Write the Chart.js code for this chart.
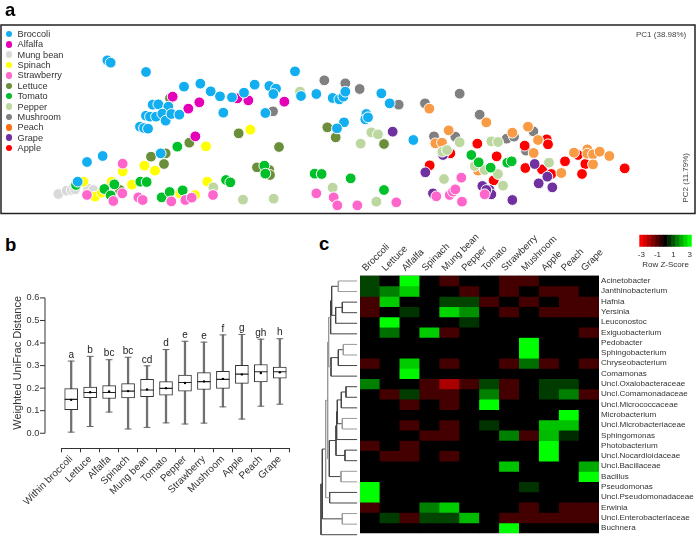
<!DOCTYPE html>
<html lang="en">
<head>
  <meta charset="UTF-8">
  <title>Microbiota of fresh produce</title>
  <script src="https://cdn.jsdelivr.net/npm/chart.js"></script>
  <style>
    body { margin: 0; background: #fff; font-family: "Liberation Sans", Arial, sans-serif; color: #333; overflow: hidden; }
    canvas { position: absolute; }
    #pcoaChart { left: 0; top: 0; }
    #boxChart { left: 0; top: 270px; }
    #dendroChart { left: 315px; top: 270px; }
    #heatChart { left: 350px; top: 225px; }
    #keyChart { left: 630px; top: 230px; }
    .panel { position: absolute; font-size: 18.5px; font-weight: bold; line-height: 20px; color: #000; }
    .vert { position: absolute; writing-mode: vertical-rl; transform: rotate(180deg); white-space: nowrap; }
    #pc1 { position: absolute; left: 636px; top: 30px; font-size: 8px; line-height: 10px; color: #444; }
    #pc2 { left: 681px; top: 153px; font-size: 8px; line-height: 10px; color: #444; }
    #yTitle { left: 11px; top: 296px; font-size: 11px; line-height: 12px; }
    .leg { position: absolute; left: 17.5px; font-size: 9.2px; line-height: 10px; white-space: nowrap; }
    .leg i { position: absolute; left: -11.7px; top: 1.7px; width: 6.5px; height: 6.5px; border-radius: 50%; }
  </style>
</head>
<body>
  <canvas id="pcoaChart" width="696" height="216"></canvas>
  <canvas id="boxChart" width="310" height="270"></canvas>
  <canvas id="heatChart" width="346" height="315"></canvas>
  <canvas id="dendroChart" width="43" height="270"></canvas>
  <canvas id="keyChart" width="66" height="40"></canvas>

  <div class="panel" style="left:5px;top:0">a</div>
  <div class="panel" style="left:5px;top:235px">b</div>
  <div class="panel" style="left:319px;top:233.7px">c</div>
  <div id="pc1">PC1 (38.98%)</div>
  <div id="pc2" class="vert">PC2 (11.79%)</div>
  <div id="yTitle" class="vert">Weighted UniFrac Distance</div>
  <div id="legend"></div>

  <script>
    // panel a: PC1, PC2 scores x1000
    const broccoli = [[-722,179],[-712,172],[-606,144],[-492,100],[-443,109],[-412,86],[-384,71],[-348,68],[-312,82],[-280,106],[-236,102],[-216,94],[-224,78],[-159,146],[-141,72],[-95,78],[-46,66],[-26,62],[-14,70],[-8,85],[-374,22],[-248,21],[-586,46],[-569,47],[-539,40],[-606,13],[-594,10],[-576,10],[-557,19],[-547,-2],[-530,18],[-506,16],[-624,-20],[-612,-24],[-600,-26],[-12,-7],[-33,-25],[-562,-100],[-736,-108],[-783,-126],[-811,-185],[100,80],[125,50],[55,18],[52,2],[60,8],[196,-60]];
    const alfalfa = [[-526,70],[-446,53],[-479,34],[-332,65],[-299,59],[-191,55],[-458,-49]];
    const mungBean = [[-869,-222],[-844,-212],[-829,-210],[-819,-208],[-781,-205],[-764,-210]];
    const spinach = [[-293,-29],[-426,-79],[-611,-137],[-579,-152],[-676,-154],[-648,-194],[-422,-185],[-759,-230],[-794,-185],[-709,-185],[-504,-220],[-459,-225],[-739,-218]];
    const strawberry = [[-676,-131],[-783,-225],[-677,-220],[-704,-243],[-629,-232],[-616,-240],[-530,-244],[-488,-240],[-469,-233],[-405,-225],[-95,-220],[-43,-232],[-32,-256],[28,-256],[145,-247],[342,-245],[340,-173],[265,-229],[305,-225],[315,-215],[322,-208],[410,-223]];
    const lettuce = [[-534,65],[-328,-40],[-476,-68],[-591,-110],[-547,-100],[-552,-132],[-207,-81],[-273,-142],[-236,-150],[-234,-165],[-62,-22],[-37,-52],[-684,-210],[108,-72]];
    const tomato = [[-512,-80],[-251,-137],[-248,-161],[-100,-161],[-79,-162],[-366,-180],[-353,-187],[-623,-185],[-604,-186],[-701,-193],[-731,-207],[-712,-226],[-559,-232],[-535,-216],[-496,-211],[-816,-195],[8,-175],[108,-210],[370,-105],[392,-127],[428,-143],[478,-128],[491,-124]];
    const pepper = [[-144,85],[-404,-202],[-315,-239],[-223,-236],[-46,-203],[70,-37],[90,-43],[38,-71],[335,-67],[283,-95],[297,-90],[430,-64],[450,-66],[380,-138],[410,-150],[450,-162],[465,-197],[288,-177],[603,-128],[85,-245]];
    const mushroom = [[-71,119],[-225,26],[-8,110],[35,93],[152,46],[231,50],[335,79],[395,16],[258,-49],[322,-50],[476,-56],[498,-50],[556,-34],[530,-80],[534,-92]];
    const peach = [[244,34],[415,-7],[302,-31],[262,-70],[282,-68],[493,-38],[540,-20],[570,-60],[557,-99],[640,-159],[678,-98],[718,-88],[718,-101],[735,-103],[755,-95],[784,-108],[735,-133],[390,-152]];
    const grape = [[134,-35],[232,-157],[285,-105],[560,-132],[598,-170],[572,-190],[613,-202],[403,-198],[425,-210],[430,-223],[493,-240],[255,-220],[415,-210]];
    const apple = [[388,-71],[596,-58],[600,-73],[446,-109],[307,-100],[245,-136],[530,-77],[532,-144],[582,-148],[610,-162],[651,-124],[690,-105],[712,-132],[702,-162],[830,-145],[437,-181]];

    const legendNames = ['Broccoli', 'Alfalfa', 'Mung bean', 'Spinach', 'Strawberry', 'Lettuce', 'Tomato', 'Pepper', 'Mushroom', 'Peach', 'Grape', 'Apple'];
    const legendColors = ['#12aeef', '#e500b8', '#d9d9d9', '#ffff00', '#ff66cc', '#6b8e3a', '#00bb2d', '#bcd8a0', '#808080', '#f96f10', '#7030a0', '#ff0000'];
    // first one ends up on top
    const pcoaSeries = [
      ['Broccoli', broccoli, '#12aeef'], ['Alfalfa', alfalfa, '#e500b8'], ['Strawberry', strawberry, '#ff66cc'],
      ['Tomato', tomato, '#00c02a'], ['Pepper', pepper, '#bcd8a0'], ['Peach', peach, '#f99a45'],
      ['Grape', grape, '#7030a0'], ['Apple', apple, '#ff0000'], ['Mushroom', mushroom, '#808080'],
      ['Lettuce', lettuce, '#6b8e3a'], ['Spinach', spinach, '#ffff00'], ['Mung bean', mungBean, '#d9d9d9']
    ];

    // panel b
    const boxLabels = ['Within broccoli', 'Lettuce', 'Alfalfa', 'Spinach', 'Mung bean', 'Tomato', 'Pepper', 'Strawberry', 'Mushroom', 'Apple', 'Peach', 'Grape'];
    const whiskerLow = [0.005, 0.03, 0.094, 0.019, 0.026, 0.046, 0.041, 0.045, 0.117, 0.063, 0.12, 0.129];
    const q1 = [0.105, 0.158, 0.154, 0.157, 0.162, 0.169, 0.187, 0.194, 0.199, 0.221, 0.228, 0.244];
    const medians = [0.15, 0.181, 0.181, 0.187, 0.192, 0.199, 0.225, 0.229, 0.239, 0.262, 0.273, 0.273];
    const q3 = [0.198, 0.205, 0.211, 0.22, 0.239, 0.229, 0.258, 0.269, 0.275, 0.301, 0.305, 0.293];
    const whiskerHigh = [0.32, 0.341, 0.326, 0.337, 0.299, 0.371, 0.408, 0.404, 0.436, 0.438, 0.417, 0.419];
    const means = [0.148, 0.182, 0.185, 0.187, 0.194, 0.2, 0.223, 0.23, 0.241, 0.261, 0.267, 0.27];
    const sigLetters = ['a', 'b', 'bc', 'bc', 'cd', 'd', 'e', 'e', 'f', 'g', 'gh', 'h'];
    const yTickValues = [0, 0.1, 0.2, 0.3, 0.4, 0.5, 0.6];

    // panel c
    const heatCols = ['Broccoli', 'Lettuce', 'Alfalfa', 'Spinach', 'Mung bean', 'Pepper', 'Tomato', 'Strawberry', 'Mushroom', 'Apple', 'Peach', 'Grape'];
    const heatRows = ['Acinetobacter', 'Janthinobacterium', 'Hafnia', 'Yersinia', 'Leuconostoc', 'Exiguobacterium', 'Pedobacter', 'Sphingobacterium', 'Chryseobacterium', 'Comamonas', 'Uncl.Oxalobacteraceae', 'Uncl.Comamonadaceae', 'Uncl.Micrococcaceae', 'Microbacterium', 'Uncl.Microbacteriaceae', 'Sphingomonas', 'Photobacterium', 'Uncl.Nocardioidaceae', 'Uncl.Bacillaceae', 'Bacillus', 'Pseudomonas', 'Uncl.Pseudomonadaceae', 'Erwinia', 'Uncl.Enterobacteriaceae', 'Buchnera'];
    const heatZ = [
      [0.8, 0, 3, 0, -0.8, 0, 0, -0.8, -0.8, 0, 0, 0],
      [0.8, 1.5, 2.4, 0, 0, -0.8, 0, -0.8, 0, -0.8, -0.8, 0],
      [-0.8, 2.4, 0, 0, 0.8, 0.8, -0.8, 0, -0.8, 0, -0.8, -0.8],
      [-0.8, 0, 0.6, 0, 2.5, 1.7, 0, -0.8, 0, -0.8, -0.8, -0.8],
      [0, 3, 0, 0, 0, 0.6, 0, 0, 0, 0, 0, 0],
      [0, 1.3, 0, 2.4, -0.8, 0, 0, 0, 0, 0, 0, -0.8],
      [0, 0, 0, 0, 0, 0, 0, 0, 3, 0, 0, 0],
      [0, 0, 0, 0, 0, 0, 0, 0, 3, 0, 0, 0],
      [-0.8, 0, 2.4, 0, -0.8, 0, 0, -0.8, 1.3, -0.8, 0, -0.8],
      [0, 0, 2.9, 0, 0, 0, 0, 0, 0, 0, 0, 0],
      [1.5, 0, 0, -0.8, -2, -0.8, 0.8, -0.8, 0, 0.7, 0.7, 0],
      [0, -0.8, 0.7, -0.8, -0.8, 0, 1.5, -0.8, 0, 0.7, 1.5, -0.8],
      [0, 0, -0.8, 0, -0.8, 0, 3, 0, 0, 0, 0, 0],
      [0, 0, 0, 0, 0, 0, 0, 0, 0, 0, 3, 0],
      [0, 0, -0.8, 0, -0.8, 0, 0.6, 0, 0, 2.3, 2.3, 0],
      [0, 0, 0, -0.8, -0.8, 0, 0, 1.5, -0.8, 2.2, 0.5, 0],
      [-0.8, 0, -0.8, 0, 0, 0, 0, 0, 0, 3, 0, 0],
      [0, -0.8, -0.8, 0, -0.8, 0, 0, 0, 0, 3, 0, 0],
      [0, 0, 0, 0, 0, 0, 0, 2.3, 0, 0, 0, 2],
      [0, 0, 0, 0, 0, 0, 0, 0, 0, 0, 0, 3],
      [3, 0, 0, 0, 0, 0, 0, 0, 0.6, 0, 0, 0],
      [3, 0, 0, 0, 0, 0, 0, 0, 0, 0, 0, 0],
      [-0.8, 0, 0, 1.5, 2.4, 0, 0, 0, -0.8, 0, -0.8, -0.8],
      [0, 0.7, -0.8, 0.8, 0.8, 2.2, 0, -0.8, -0.8, -0.8, -0.8, -0.8],
      [0, 0, 0, 0, 0, 0, 0, 3, 0, 0, 0, 0]
    ];
    const keyLevels = [-3, -2.5, -2, -1.5, -1, -0.5, 0, 0.5, 1, 1.5, 2, 2.5, 3];

    // row clustering: [child, child, height], children >= 25 are earlier merges (25 = first line)
    const dendroMerges = [
      [0, 1, 57], [2, 3, 45], [26, 4, 65], [25, 27, 77], [28, 5, 80],
      [6, 7, 42], [30, 8, 57], [31, 9, 79], [29, 32, 86],
      [10, 11, 34], [34, 12, 48], [13, 14, 45], [35, 36, 60], [37, 15, 62],
      [16, 17, 37], [38, 39, 64], [18, 19, 49], [40, 41, 84], [33, 42, 89],
      [20, 21, 83], [43, 44, 95], [22, 23, 45], [45, 46, 105], [47, 24, 109]
    ];
    const dendroLightMerges = [25, 30, 36, 41, 33, 43, 45, 46];

    const fontFamily = '"Liberation Sans", Arial, sans-serif';

    function zColor(z) {
      const v = Math.round(255 * Math.min(1, Math.abs(z) / 3));
      return z < 0 ? `rgb(${v},0,0)` : `rgb(0,${v},0)`;
    }

    // html legend for panel a
    legendNames.forEach((name, i) => {
      const row = document.createElement('div');
      row.className = 'leg';
      row.style.top = (29 + i * 10.37) + 'px';
      row.innerHTML = `<i style="background:${legendColors[i]}"></i>${name}`;
      document.getElementById('legend').appendChild(row);
    });

    const frame = {
      id: 'frame',
      afterDraw(chart) {
        const a = chart.chartArea, ctx = chart.ctx;
        ctx.save();
        ctx.strokeStyle = '#222';
        ctx.lineWidth = 1.5;
        ctx.strokeRect(a.left, a.top, a.right - a.left, a.bottom - a.top);
        ctx.restore();
      }
    };

    new Chart(document.getElementById('pcoaChart'), {
      type: 'scatter',
      data: {
        datasets: pcoaSeries.map(s => ({
          label: s[0],
          data: s[1].map(p => ({ x: p[0], y: p[1] })),
          backgroundColor: s[2],
          borderColor: '#fff',
          borderWidth: 1,
          pointRadius: 5.4
        }))
      },
      options: {
        responsive: false,
        animation: false,
        layout: { padding: { left: 1, right: 1, top: 25, bottom: 2.5 }, autoPadding: false },
        plugins: { legend: { display: false }, tooltip: { enabled: false } },
        scales: {
          x: { type: 'linear', display: false, min: -1041, max: 1041 },
          y: { type: 'linear', display: false, min: -280.5, max: 285 }
        }
      },
      plugins: [frame]
    });

    // y axis sits left of the plot and stops at 0, x axis is detached below
    const boxExtras = {
      id: 'boxExtras',
      afterDatasetsDraw(chart) {
        const ctx = chart.ctx, y = chart.scales.y, x = chart.scales.x;
        const axisX = chart.chartArea.left - 16.7;
        ctx.save();
        ctx.strokeStyle = '#333';
        ctx.lineWidth = 1;
        ctx.beginPath();
        ctx.moveTo(axisX, y.getPixelForValue(0));
        ctx.lineTo(axisX, y.getPixelForValue(0.6));
        yTickValues.forEach(v => {
          ctx.moveTo(axisX, y.getPixelForValue(v));
          ctx.lineTo(axisX - 5, y.getPixelForValue(v));
        });
        ctx.stroke();
        ctx.fillStyle = '#222';
        ctx.font = '10px ' + fontFamily;
        ctx.textAlign = 'center';
        ctx.textBaseline = 'alphabetic';
        sigLetters.forEach((s, i) => {
          ctx.fillText(s, x.getPixelForValue(i), y.getPixelForValue(whiskerHigh[i]) - 3.3);
        });
        ctx.restore();
      }
    };

    new Chart(document.getElementById('boxChart'), {
      type: 'bar',
      data: {
        labels: boxLabels,
        datasets: [
          { type: 'line', order: 1, data: means, showLine: false, pointRadius: 1.2, pointBackgroundColor: '#000', pointBorderWidth: 0 },
          { type: 'line', order: 2, data: medians, showLine: false, pointStyle: 'line', pointRadius: 6.5, pointBorderColor: '#222', pointBorderWidth: 1.1 },
          { order: 3, data: q1.map((v, i) => [v, q3[i]]), grouped: false, barThickness: 13, backgroundColor: '#fff', borderColor: '#333', borderWidth: 1, borderSkipped: false },
          { type: 'line', order: 4, data: whiskerHigh, showLine: false, pointStyle: 'line', pointRadius: 3.4, pointBorderColor: '#666', pointBorderWidth: 1 },
          { type: 'line', order: 4, data: whiskerLow, showLine: false, pointStyle: 'line', pointRadius: 3.4, pointBorderColor: '#666', pointBorderWidth: 1 },
          { order: 5, data: whiskerLow.map((v, i) => [v, whiskerHigh[i]]), grouped: false, barThickness: 1.6, backgroundColor: '#707070', borderWidth: 0 }
        ]
      },
      options: {
        responsive: false,
        animation: false,
        layout: { padding: { left: 0, right: 20.7, top: 15.3, bottom: 0 }, autoPadding: false },
        plugins: { legend: { display: false }, tooltip: { enabled: false } },
        scales: {
          x: {
            afterFit(s) { s.height = 91.7; },
            border: { color: '#333', width: 1 },
            grid: { drawOnChartArea: false, tickLength: 4, color: '#333' },
            ticks: { autoSkip: false, minRotation: 45, maxRotation: 45, padding: 1, color: '#333', font: { family: fontFamily, size: 10 } }
          },
          y: {
            min: -0.0667,
            max: 0.6,
            afterFit(s) { s.width = 61.7; },
            afterBuildTicks(s) { s.ticks = yTickValues.map(v => ({ value: v })); },
            border: { display: false },
            grid: { display: false, drawTicks: false },
            ticks: { padding: 22.4, color: '#333', font: { family: fontFamily, size: 9.2 }, callback: v => v.toFixed(1) }
          }
        }
      },
      plugins: [boxExtras]
    });

    // work out tree node positions from the merges
    const nodeY = heatRows.map((r, i) => i + 0.5);
    const nodeH = heatRows.map(() => 0);
    const dendroDark = [], dendroLight = [];
    dendroMerges.forEach((m, i) => {
      const id = 25 + i;
      const seg = dendroLightMerges.includes(id) ? dendroLight : dendroDark;
      seg.push({ x: nodeH[m[0]], y: nodeY[m[0]] }, { x: m[2], y: nodeY[m[0]] }, { x: m[2], y: nodeY[m[1]] }, { x: nodeH[m[1]], y: nodeY[m[1]] }, { x: NaN, y: NaN });
      nodeY[id] = (nodeY[m[0]] + nodeY[m[1]]) / 2;
      nodeH[id] = m[2];
    });

    new Chart(document.getElementById('dendroChart'), {
      type: 'scatter',
      data: {
        datasets: [
          { data: dendroLight, showLine: true, pointRadius: 0, borderColor: '#999', borderWidth: 1 },
          { data: dendroDark, showLine: true, pointRadius: 0, borderColor: '#444', borderWidth: 1 }
        ]
      },
      options: {
        responsive: false,
        animation: false,
        layout: { padding: { left: 0, right: 0.7, top: 5.7, bottom: 0 }, autoPadding: false },
        plugins: { legend: { display: false }, tooltip: { enabled: false } },
        scales: {
          x: { type: 'linear', display: false, reverse: true, min: 0, max: 127 },
          y: { type: 'linear', display: false, reverse: true, min: 0, max: 25 }
        }
      }
    });

    // black under the cells so no white seams show between rows
    const heatBack = {
      id: 'heatBack',
      beforeDatasetsDraw(chart) {
        const a = chart.chartArea;
        chart.ctx.fillStyle = '#000';
        chart.ctx.fillRect(a.left, a.top, a.right - a.left, a.bottom - a.top);
      }
    };

    new Chart(document.getElementById('heatChart'), {
      type: 'bar',
      data: {
        labels: heatCols,
        datasets: heatRows.map((name, r) => ({
          label: name,
          data: heatCols.map(() => [r, r + 1]),
          backgroundColor: heatZ[r].map(zColor),
          grouped: false,
          barPercentage: 1,
          categoryPercentage: 1,
          borderWidth: 0
        }))
      },
      options: {
        responsive: false,
        animation: false,
        layout: { padding: { left: 10, right: 0, top: 0, bottom: 0 }, autoPadding: false },
        plugins: { legend: { display: false }, tooltip: { enabled: false } },
        scales: {
          x: {
            position: 'top',
            afterFit(s) { s.height = 50.7; },
            border: { display: false },
            grid: { display: false, drawTicks: false },
            ticks: { autoSkip: false, minRotation: 45, maxRotation: 45, padding: 2, labelOffset: 2, color: '#333', font: { family: fontFamily, size: 9.6 } }
          },
          y: { type: 'linear', display: false, reverse: true, min: 0, max: 25 },
          y2: {
            type: 'category',
            labels: heatRows,
            position: 'right',
            offset: true,
            afterFit(s) { s.width = 97; },
            border: { display: false },
            grid: { display: false, drawTicks: false },
            ticks: { autoSkip: false, padding: 2, color: '#333', font: { family: fontFamily, size: 8.1 } }
          }
        }
      },
      plugins: [heatBack]
    });

    new Chart(document.getElementById('keyChart'), {
      type: 'bar',
      data: {
        labels: keyLevels,
        datasets: [{
          data: keyLevels.map(() => [0, 1]),
          backgroundColor: keyLevels.map(zColor),
          barPercentage: 1,
          categoryPercentage: 1,
          borderWidth: 0
        }]
      },
      options: {
        responsive: false,
        animation: false,
        layout: { padding: { left: 9.3, right: 4.3, top: 4.7, bottom: 0 }, autoPadding: false },
        plugins: { legend: { display: false }, tooltip: { enabled: false } },
        scales: {
          x: {
            afterFit(s) { s.height = 23.3; },
            border: { display: false },
            grid: { display: false, drawTicks: false },
            title: { display: true, text: 'Row Z-Score', color: '#333', padding: 0, font: { family: fontFamily, size: 8 } },
            ticks: {
              autoSkip: false, maxRotation: 0, padding: 3, color: '#333', font: { family: fontFamily, size: 8 },
              callback(v) { const z = keyLevels[v]; return Math.abs(z) === 1 || Math.abs(z) === 3 ? String(z) : ''; }
            }
          },
          y: { display: false, min: 0, max: 1 }
        }
      }
    });
  </script>
</body>
</html>
